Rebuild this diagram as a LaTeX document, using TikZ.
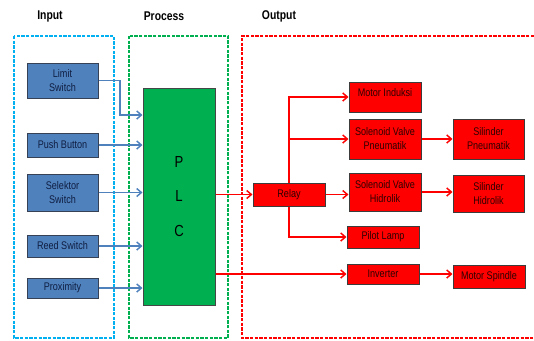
\documentclass[tikz,border=0pt]{standalone}
\usepackage{fontspec}
\newfontfamily\diagfont[FakeStretch=0.82]{Liberation Sans}
\usetikzlibrary{arrows.meta}
\tikzset{every picture/.style={line width=0.75pt}}

\begin{document}
\begin{tikzpicture}[x=0.75pt,y=0.75pt,yscale=-1,xscale=1,
  title/.style={font=\diagfont\bfseries\fontsize{9.5}{11}\selectfont},
  inbox/.style={draw={rgb, 255:red, 55; green, 65; blue, 85 }, fill={rgb, 255:red, 79; green, 129; blue, 189 }, text={rgb, 255:red, 15; green, 30; blue, 65 }, font=\diagfont\fontsize{8.3}{10.5}\selectfont, align=center, inner sep=0.75pt, minimum width=53.25pt},
  outbox/.style={draw={rgb, 255:red, 60; green, 60; blue, 60 }, fill={rgb, 255:red, 255; green, 0; blue, 0 }, text={rgb, 255:red, 45; green, 0; blue, 0 }, font=\diagfont\fontsize{8.3}{10.5}\selectfont, align=center, inner sep=0.75pt, minimum width=54pt},
  inarrow/.style={draw={rgb, 255:red, 79; green, 129; blue, 189 }, line width=1.1pt, -{Straight Barb[length=3.5pt,width=6pt]}},
  outarrow/.style={draw={rgb, 255:red, 255; green, 0; blue, 0 }, line width=1.1pt, -{Straight Barb[length=3.5pt,width=6pt]}},
  frame/.style={line width=0.9pt, dash pattern={on 2.5pt off 1pt}}]
\useasboundingbox (0,0) rectangle (534,340);

%Shape: Dashed frames
\draw [frame, color={rgb, 255:red, 0; green, 176; blue, 240 }] (14,36) rectangle (114,338) ;
\draw [frame, color={rgb, 255:red, 0; green, 176; blue, 80 }] (129,36) rectangle (228,338) ;
\draw [frame, color={rgb, 255:red, 255; green, 0; blue, 0 }] (534,36) -| (242,338) -- (534,338) ;

% Text Node
\node [title] (input title) at (50,16) {Input};
% Text Node
\node [title] (process title) at (164,16) {Process};
% Text Node
\node [title] (output title) at (279,16) {Output};

%Shape: Rectangle
\node [inbox, minimum height=26.25pt] (lim) at (62.5,80.5) {Limit\\Switch};
\node [inbox, minimum height=18pt] (push) at (62.5,145) {Push Button};
\node [inbox, minimum height=27.75pt] (sel) at (62.5,192.5) {Selektor\\Switch};
\node [inbox, minimum height=16.5pt] (reed) at (62.5,246) {Reed Switch};
\node [inbox, minimum height=15pt] (prox) at (62.5,288) {Proximity};

%Shape: Rectangle
\node [draw={rgb, 255:red, 70; green, 70; blue, 70 }, fill={rgb, 255:red, 0; green, 176; blue, 80 }, font=\diagfont\fontsize{12}{26}\selectfont, align=center, minimum width=54pt, minimum height=162.75pt] (plc) at (179,196.5) {P\\L\\C};

%Shape: Rectangle
\node [outbox, minimum height=17.25pt] (relay) at (289,194.5) {Relay};
\node [outbox, minimum height=22.5pt, text depth=7pt] (mi) at (385,97) {Motor Induksi};
\node [outbox, minimum height=30pt] (svp) at (385,139) {Solenoid Valve\\Pneumatik};
\node [outbox, minimum height=30pt, minimum width=53.25pt] (sp) at (488.5,139) {Silinder\\Pneumatik};
\node [outbox, minimum height=28.5pt] (svh) at (385,192) {Solenoid Valve\\Hidrolik};
\node [outbox, minimum height=27.75pt, minimum width=53.25pt] (sh) at (488.5,193.5) {Silinder\\Hidrolik};
\node [outbox, minimum height=16.5pt] (pilot) at (383,237) {Pilot Lamp};
\node [outbox, minimum height=15pt] (inv) at (383,274) {Inverter};
\node [outbox, minimum height=17.25pt] (ms) at (489,276.5) {Motor Spindle};

%Straight Lines
\coordinate (lim bend) at (120,115);
\draw [inarrow] (lim.east) -| (lim bend) -- (lim bend -| plc.west) ;
\draw [inarrow] (push.east) -- (push.east -| plc.west) ;
\draw [inarrow] (sel.east) -- (sel.east -| plc.west) ;
\draw [inarrow] (reed.east) -- (reed.east -| plc.west) ;
\draw [inarrow] (prox.east) -- (prox.east -| plc.west) ;

%Straight Lines
\draw [outarrow] (plc.east |- relay) -- (relay.west) ;
\draw [outarrow] (plc.east |- inv) -- (inv.west) ;
\draw [outarrow] (relay.north) |- (mi.west) ;
\draw [outarrow] (relay.north |- svp.west) -- (svp.west) ;
\draw [outarrow] (relay.east) -- (relay.east -| svh.west) ;
\draw [outarrow] (relay.south) |- (pilot.west) ;
\draw [outarrow] (svp.east) -- (sp.west) ;
\draw [outarrow] (svh.east) -- (svh.east -| sh.west) ;
\draw [outarrow] (inv.east) -- (inv.east -| ms.west) ;

\end{tikzpicture}
\end{document}
